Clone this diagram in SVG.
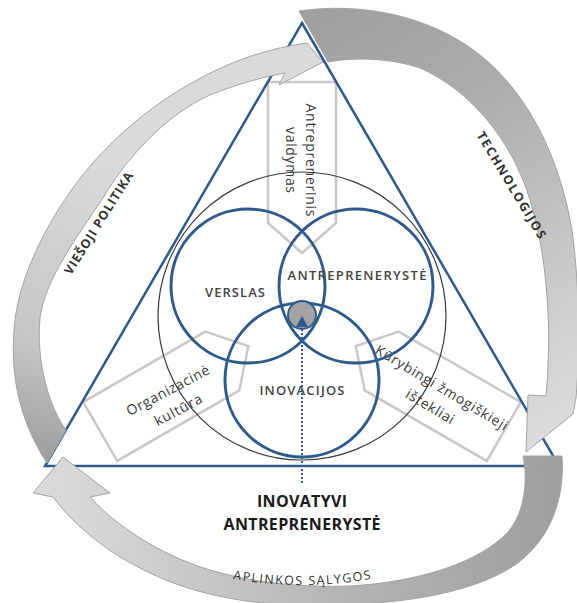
<svg xmlns="http://www.w3.org/2000/svg" width="577" height="603" viewBox="0 0 577 603">
  <defs>
    <style>
      .box { fill: none; stroke: #ccc7c2; stroke-width: 2.5; stroke-linejoin: miter; }
      .boxtxt { font-family: "Open Sans", "Liberation Sans", sans-serif; font-size: 14px; fill: #3a3a3a; text-anchor: middle; }
      .ring { fill: none; stroke: #2f5b8c; stroke-width: 3; }
      .ctxt { font-family: "Open Sans", "Liberation Sans", sans-serif; font-size: 13px; font-weight: 600; fill: #444444; text-anchor: middle; }
      .side { font-family: "Open Sans", "Liberation Sans", sans-serif; font-size: 12.5px; font-weight: bold; fill: #333333; text-anchor: middle; }
      .title { font-family: "Open Sans", "Liberation Sans", sans-serif; font-size: 16px; font-weight: bold; fill: #1a1a1a; text-anchor: middle; }
      .cyc { stroke: #a3a3a3; stroke-width: 1; stroke-linejoin: round; }
    </style>
    <linearGradient id="gLeft" gradientUnits="userSpaceOnUse" x1="45" y1="455" x2="120" y2="160">
      <stop offset="0" stop-color="#9f9f9f"/>
      <stop offset="0.35" stop-color="#c6c6c6"/>
      <stop offset="1" stop-color="#dadada"/>
    </linearGradient>
    <linearGradient id="gRight" gradientUnits="userSpaceOnUse" x1="320" y1="20" x2="565" y2="430">
      <stop offset="0" stop-color="#a0a0a0"/>
      <stop offset="0.3" stop-color="#acacac"/>
      <stop offset="0.85" stop-color="#d3d3d3"/>
      <stop offset="1" stop-color="#dcdcdc"/>
    </linearGradient>
    <linearGradient id="gBottom" gradientUnits="userSpaceOnUse" x1="545" y1="460" x2="60" y2="480">
      <stop offset="0" stop-color="#a0a0a0"/>
      <stop offset="0.4" stop-color="#b3b3b3"/>
      <stop offset="1" stop-color="#d9d9d9"/>
    </linearGradient>
    <marker id="upTip" markerUnits="userSpaceOnUse" markerWidth="12" markerHeight="12" refX="0" refY="6" orient="auto">
      <path d="M0,0 L11,6 L0,12 z" fill="#2f5b8c"/>
    </marker>
  </defs>

  <rect width="577" height="603" fill="#ffffff"/>

  <!-- three pentagon pointers aimed at the centre -->
  <g id="valdymas">
    <polygon class="box" points="-34,-233 34,-233 34,-92 0,-62 -34,-92" transform="translate(302,315)"/>
    <g transform="translate(302,160) rotate(90)">
      <text class="boxtxt" x="0" y="-4" textLength="113" lengthAdjust="spacing">Antreprenerinis</text>
      <text class="boxtxt" x="0" y="16" textLength="66" lengthAdjust="spacing">valdymas</text>
    </g>
  </g>
  <g id="kultura">
    <polygon class="box" points="-34,-233 34,-233 34,-92 0,-62 -34,-92" transform="translate(302,315) rotate(-120)"/>
    <g transform="translate(173,400) rotate(-28)">
      <text class="boxtxt" x="0" y="-6" textLength="92" lengthAdjust="spacing">Organizacinė</text>
      <text class="boxtxt" x="0" y="16" textLength="52" lengthAdjust="spacing">kultūra</text>
    </g>
  </g>
  <g id="istekliai">
    <polygon class="box" points="-34,-233 34,-233 34,-92 0,-62 -34,-92" transform="translate(302,315) rotate(120)"/>
    <g transform="translate(436,397) rotate(31)">
      <text class="boxtxt" x="0" y="-6" textLength="152" lengthAdjust="spacing">Kūrybingi žmogiškieji</text>
      <text class="boxtxt" x="0" y="16" textLength="54" lengthAdjust="spacing">ištekliai</text>
    </g>
  </g>

  <!-- outer triangle -->
  <g id="triangle">
    <polygon points="302,23 559,466 45,466" fill="none" stroke="#2f5b8c" stroke-width="2.5" stroke-linejoin="miter"/>
  </g>

  <!-- cycle of curved arrows round the triangle -->
  <g id="cycle-arrows">
    <path id="arrow-left" class="cyc" fill="url(#gLeft)"
      d="M47,463 C22,425 10,380 14,330 C17,285 40,235 70,192 C110,135 170,88 235,62 C260,52 285,46 307,43
         L323,62 L279,85 L285,73
         C262,77 235,85 210,95 C165,115 125,160 103,198 C75,240 45,280 40,318 C36,360 48,405 66,430 Z"/>
    <path id="arrow-right" class="cyc" fill="url(#gRight)"
      d="M299,11 C360,2 430,15 480,55 C530,95 560,160 572,230 C580,290 580,350 576,398
         L573,414 L526,452 L528,395 L546,396
         C552,330 548,260 530,200 C512,140 470,90 420,68 C390,58 355,57 328,62 Z"/>
    <path id="arrow-bottom" class="cyc" fill="url(#gBottom)"
      d="M523,456 L562,456 C565,500 550,540 515,565 C470,595 390,607 300,605 C240,604 185,592 140,568 C100,548 70,520 53,497
         L33,493 L63,457 L110,493 L90,497
         C115,525 160,555 210,570 C250,582 300,588 350,586 C420,582 480,562 508,532 C525,512 528,480 523,456 Z"/>
  </g>

  <!-- environment circle and the three domains -->
  <g id="aplinka">
    <circle cx="302" cy="316" r="144" fill="none" stroke="#3a3a3a" stroke-width="1.2"/>
  </g>
  <g id="verslas">
    <circle class="ring" cx="248" cy="286" r="77"/>
    <text class="ctxt" x="235" y="297" textLength="60" lengthAdjust="spacing">VERSLAS</text>
  </g>
  <g id="antreprenseryste">
    <circle class="ring" cx="356" cy="286" r="77"/>
    <text class="ctxt" x="357" y="280" textLength="139" lengthAdjust="spacing">ANTREPRENERYSTĖ</text>
  </g>
  <g id="inovacijos">
    <circle class="ring" cx="302" cy="380" r="77"/>
    <text class="ctxt" x="302" y="395" textLength="85" lengthAdjust="spacing">INOVACIJOS</text>
  </g>

  <!-- dotted link from the result up to the core -->
  <g id="connectors">
    <line x1="302" y1="483" x2="302" y2="328" stroke="#2f5b8c" stroke-width="2" stroke-dasharray="2 2" marker-end="url(#upTip)"/>
  </g>

  <g id="core">
    <circle cx="302" cy="315" r="14" fill="#a3a3a3" stroke="#2f5b8c" stroke-width="2"/>
    <polygon points="302,316 296,327 308,327" fill="#2f5b8c"/>
  </g>

  <g id="rezultatas">
    <text class="title" x="302" y="507" textLength="90" lengthAdjust="spacing">INOVATYVI</text>
    <text class="title" x="302" y="530" textLength="157" lengthAdjust="spacing">ANTREPRENERYSTĖ</text>
  </g>

  <!-- labels on the cycle arrows -->
  <g id="labels">
    <text class="side" transform="translate(98.5,223) rotate(-58)" x="0" y="4.5" textLength="118" lengthAdjust="spacing">VIEŠOJI POLITIKA</text>
    <text class="side" transform="translate(511.5,185) rotate(59)" x="0" y="4.5" textLength="122" lengthAdjust="spacing">TECHNOLOGIJOS</text>
    <path id="bottomArc" d="M228,578 Q302,592 376,578" fill="none"/>
    <text class="side" style="font-weight:normal"><textPath href="#bottomArc" startOffset="50%" textLength="139" lengthAdjust="spacing">APLINKOS SĄLYGOS</textPath></text>
  </g>
</svg>
